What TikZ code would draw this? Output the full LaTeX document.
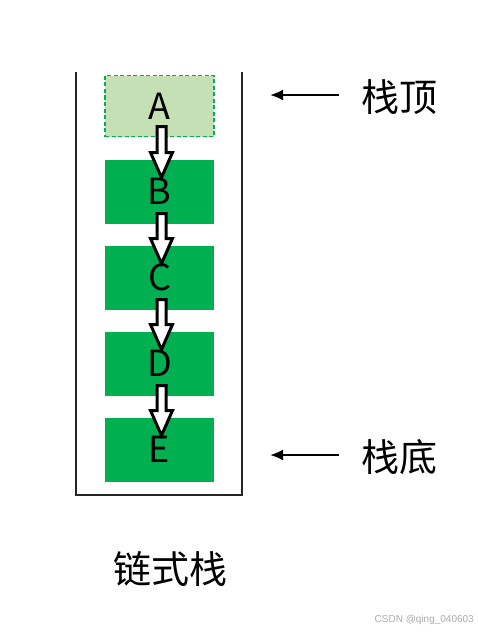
\documentclass[tikz,border=0pt]{standalone}
\usepackage{fontspec}
\setmainfont{Noto Sans CJK SC}
\newfontfamily\markfont{Liberation Sans}
\usepackage{tikz}
\usetikzlibrary{arrows.meta,positioning,calc}
\definecolor{stackgreen}{RGB}{0,176,80}
\definecolor{topfill}{RGB}{197,224,180}
\definecolor{marktext}{RGB}{170,170,170}
\tikzset{
  cell/.style={fill=stackgreen,minimum width=109pt,minimum height=64pt,
    inner sep=0pt,outer sep=0pt,font=\fontsize{36}{36}\selectfont},
  linkarrow/.style={draw=black,fill=white,line width=3pt,line join=miter},
  pointer/.style={-{Latex[length=13pt,width=11pt]},line width=2pt},
}
\begin{document}
\begin{tikzpicture}[x=1pt,y=-1pt]
\useasboundingbox (0,0) rectangle (478,634);
% the stack container, open at the top
\draw[line width=2pt,color=black!85](76,72)--(76,495)--(242,495)--(242,72);
\node[cell,fill=topfill,draw=stackgreen,dash pattern=on 4pt off 2.5pt,
      line width=1.5pt,minimum height=61pt](a) at(159.5,106){A};
\node[cell,below=23pt of a](b){B};
\node[cell,below=22pt of b](c){C};
\node[cell,below=22pt of c](d){D};
\node[cell,below=22pt of d](e){E};
\foreach \u/\v in {a/b,b/c,c/d,d/e}
  \draw[linkarrow] let \p1=($(\u.south)+(2,-10)$), \p2=($(\v.north)+(2,18)$) in
    (\x1-4.5pt,\y1)--(\x1+4.5pt,\y1)--(\x1+4.5pt,\y2+25pt)--(\x1+11pt,\y2+25pt)
    --(\x2,\y2)--(\x1-11pt,\y2+25pt)--(\x1-4.5pt,\y2+25pt)--cycle;
% labels on the right
\node[font=\fontsize{38}{38}\selectfont,anchor=west,inner sep=0pt](toplbl)
  at(361,97){栈顶};
\node[font=\fontsize{38}{38}\selectfont,anchor=west,inner sep=0pt](botlbl)
  at(361,457){栈底};
\coordinate(toptip) at(270,95);
\coordinate(bottip) at(270,455);
\draw[pointer]([xshift=-22pt]toplbl.west |- toptip)--(toptip);
\draw[pointer]([xshift=-22pt]botlbl.west |- bottip)--(bottip);
\node[font=\fontsize{38}{38}\selectfont,inner sep=0pt](title)
  at(170,569){链式栈};
\node[font=\markfont\fontsize{10}{10}\selectfont,color=marktext,anchor=east,
      inner sep=0pt](mark) at(474,620){CSDN @qing\_040603};
\end{tikzpicture}
\end{document}
